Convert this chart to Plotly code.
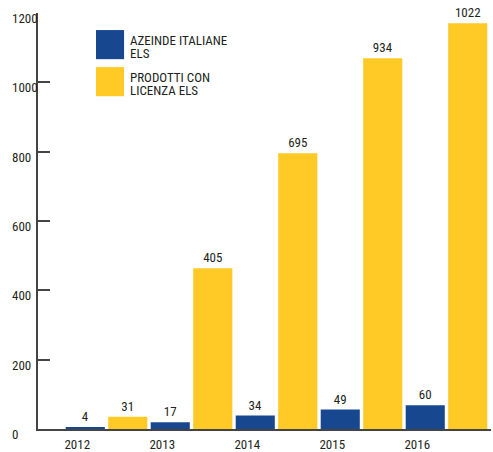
import plotly.graph_objects as go

years = [2012, 2013, 2014, 2015, 2016]
aziende = [4, 17, 34, 49, 60]
prodotti = [31, 405, 695, 934, 1022]
y_tick_labels = [0, 200, 400, 600, 800, 1000, 1200]
series_names = ["AZEINDE ITALIANE<br>ELS", "PRODOTTI CON<br>LICENZA ELS"]

BLUE = "#17488F"
YELLOW = "#FFC926"
TEXT = "#231F20"
FONT = "Roboto Condensed, DejaVu Sans Condensed, sans-serif"
FS = 13
AXIS_SCALE = 1.145  # printed axis vs bar heights in the original graphic

fig = go.Figure()
fig.add_trace(go.Bar(
    x=[y - 0.25 for y in years], y=aziende, width=0.46,
    marker=dict(color=BLUE, line=dict(width=0)),
    text=[str(v) for v in aziende], textposition="outside",
    constraintext="none", cliponaxis=False,
    textfont=dict(family=FONT, size=FS, color=TEXT),
    name=series_names[0], showlegend=False,
))
fig.add_trace(go.Bar(
    x=[y + 0.25 for y in years], y=prodotti, width=0.46,
    marker=dict(color=YELLOW, line=dict(width=0)),
    text=[str(v) for v in prodotti], textposition="outside",
    constraintext="none", cliponaxis=False,
    textfont=dict(family=FONT, size=FS, color=TEXT),
    name=series_names[1], showlegend=False,
))

annotations = []
for v in y_tick_labels:
    annotations.append(dict(
        x=-0.0618, xref="paper", y=v / AXIS_SCALE, yref="y",
        text=str(v), showarrow=False, xanchor="left", yanchor="middle",
        yshift=-5.5, font=dict(family=FONT, size=FS, color=TEXT),
    ))

shapes = []
legend_boxes = [(0.959, 0.889), (0.870, 0.800)]
colors = [BLUE, YELLOW]
for (y1, y0), c, name in zip(legend_boxes, colors, series_names):
    shapes.append(dict(type="rect", xref="paper", yref="paper",
                       x0=0.128, x1=0.190, y0=y0, y1=y1,
                       fillcolor=c, line=dict(width=0)))
    lines = name.split("<br>")
    for i, ln in enumerate(lines):
        annotations.append(dict(
            x=0.199, xref="paper", y=y1, yref="paper",
            text=ln, showarrow=False, xanchor="left", yanchor="top",
            yshift=-1 - 13 * i,
            font=dict(family=FONT, size=FS, color=TEXT),
        ))

fig.update_layout(
    width=493, height=452,
    margin=dict(l=38, r=2, t=13, b=23),
    paper_bgcolor="white", plot_bgcolor="white",
    barmode="overlay",
    annotations=annotations, shapes=shapes,
    xaxis=dict(
        range=[2011.194, 2016.5235],
        tickvals=[y - 0.25 for y in years], ticktext=[str(y) for y in years],
        ticks="", showgrid=False, zeroline=False, automargin=False,
        showline=True, linecolor="#444", linewidth=2,
        ticklabelshift=-8, ticklabelstandoff=2,
        tickfont=dict(family=FONT, size=FS, color=TEXT),
    ),
    yaxis=dict(
        range=[0, 1200 / AXIS_SCALE], automargin=False,
        tickvals=[v / AXIS_SCALE for v in y_tick_labels],
        showticklabels=False,
        ticks="inside", ticklen=12, tickcolor="#444", tickwidth=1.5,
        showgrid=False, zeroline=False,
        showline=True, linecolor="#444", linewidth=1.5,
    ),
)

fig.write_html("out.html", config={"displayModeBar": False},
               post_script="document.body.style.margin='0';")
